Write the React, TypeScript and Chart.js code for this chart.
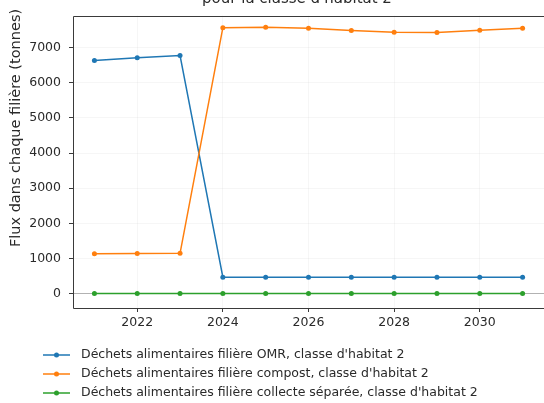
import React, { useEffect, useRef } from "react";
import { Chart, registerables } from "chart.js";

Chart.register(...registerables);

// Années et flux annuels (tonnes) par filière
const years = [2021, 2022, 2023, 2024, 2025, 2026, 2027, 2028, 2029, 2030, 2031];
const fluxOmr = [6630, 6710, 6775, 465, 465, 465, 465, 465, 465, 465, 465];
const fluxCompost = [1135, 1140, 1147, 7567, 7578, 7550, 7483, 7438, 7427, 7494, 7550];
const fluxCollecteSeparee = [0, 0, 0, 0, 0, 0, 0, 0, 0, 0, 0];

const seriesLabels = [
  "Déchets alimentaires filière OMR, classe d'habitat 2",
  "Déchets alimentaires filière compost, classe d'habitat 2",
  "Déchets alimentaires filière collecte séparée, classe d'habitat 2",
];
const seriesColors = ["#1f77b4", "#ff7f0e", "#2ca02c"];

const xTicks = [2022, 2024, 2026, 2028, 2030];
const yTicks = [0, 1000, 2000, 3000, 4000, 5000, 6000, 7000];

const titleText = "pour la classe d'habitat 2";
const yAxisTitle = "Flux dans chaque filière (tonnes)";

const FONT = "'DejaVu Sans', sans-serif";
const TEXT_COLOR = "#2a2a2a";
const TICK_SIZE = 12.5;

const decorations = {
  id: "decorations",
  afterDatasetsDraw(chart: any) {
    const { ctx, chartArea } = chart;
    const { left, right, top, bottom } = chartArea;
    ctx.save();
    // cadre de l'axe (gauche, haut, bas)
    ctx.strokeStyle = "#3a3a3a";
    ctx.lineWidth = 1;
    ctx.beginPath();
    ctx.moveTo(right + 2, Math.round(top) + 0.5);
    ctx.lineTo(Math.round(left) + 0.5, Math.round(top) + 0.5);
    ctx.lineTo(Math.round(left) + 0.5, Math.round(bottom) + 0.5);
    ctx.lineTo(right + 2, Math.round(bottom) + 0.5);
    ctx.stroke();
    ctx.restore();
  },
  afterDraw(chart: any) {
    const { ctx } = chart;
    ctx.save();
    ctx.fillStyle = TEXT_COLOR;

    // titre (deuxième ligne)
    ctx.font = `15px ${FONT}`;
    ctx.textAlign = "center";
    ctx.textBaseline = "alphabetic";
    ctx.fillText(titleText, 297, 3);

    // titre de l'axe des ordonnées
    ctx.save();
    ctx.translate(16, 128);
    ctx.rotate(-Math.PI / 2);
    ctx.font = `14.5px ${FONT}`;
    ctx.textAlign = "center";
    ctx.textBaseline = "middle";
    ctx.fillText(yAxisTitle, 0, 0);
    ctx.restore();

    // légende sous le graphique
    const rowY = [355, 374, 393];
    chart.data.datasets.forEach((ds: any, i: number) => {
      const y = rowY[i];
      ctx.strokeStyle = ds.borderColor;
      ctx.lineWidth = 1.5;
      ctx.beginPath();
      ctx.moveTo(43, y);
      ctx.lineTo(70, y);
      ctx.stroke();
      ctx.fillStyle = ds.borderColor;
      ctx.beginPath();
      ctx.arc(56.5, y, 2.5, 0, Math.PI * 2);
      ctx.fill();
      ctx.fillStyle = TEXT_COLOR;
      ctx.font = `${TICK_SIZE}px ${FONT}`;
      ctx.textAlign = "left";
      ctx.textBaseline = "middle";
      ctx.fillText(ds.label, 81, y);
    });
    ctx.restore();
  },
};

export default function App() {
  const canvasRef = useRef<HTMLCanvasElement | null>(null);

  useEffect(() => {
    if (!canvasRef.current) return;
    const series = [fluxOmr, fluxCompost, fluxCollecteSeparee];
    const chart = new Chart(canvasRef.current, {
      type: "line",
      data: {
        datasets: series.map((values, i) => ({
          label: seriesLabels[i],
          data: years.map((yr, j) => ({ x: yr, y: values[j] })),
          borderColor: seriesColors[i],
          backgroundColor: seriesColors[i],
          borderWidth: 1.5,
          pointRadius: 2.5,
          pointBorderWidth: 0,
          pointBackgroundColor: seriesColors[i],
          tension: 0,
          order: 2 - i,
        })),
      },
      options: {
        animation: false,
        responsive: false,
        devicePixelRatio: 1,
        events: [],
        layout: { autoPadding: false, padding: { left: 0, right: 0, top: 10, bottom: 65 } },
        plugins: {
          legend: { display: false },
          tooltip: { enabled: false },
          title: { display: false },
        },
        scales: {
          x: {
            type: "linear",
            min: 2020.5,
            max: 2031.5,
            afterBuildTicks: (scale: any) => {
              scale.ticks = xTicks.map((v) => ({ value: v }));
            },
            afterFit: (scale: any) => {
              scale.height = 30;
            },
            border: { display: false },
            grid: {
              color: "rgba(0,0,0,0.035)",
              tickColor: "#3a3a3a",
              tickLength: 4,
            },
            ticks: {
              font: { family: FONT, size: TICK_SIZE },
              color: TEXT_COLOR,
              padding: 3,
              maxRotation: 0,
              callback: (v: any) => String(v),
            },
          },
          y: {
            type: "linear",
            min: -410,
            max: 7913,
            afterBuildTicks: (scale: any) => {
              scale.ticks = yTicks.map((v) => ({ value: v }));
            },
            afterFit: (scale: any) => {
              scale.width = 73;
            },
            border: { display: false },
            grid: {
              color: (c: any) =>
                c.tick && c.tick.value === 0 ? "rgba(0,0,0,0.3)" : "rgba(0,0,0,0.035)",
              tickColor: "#3a3a3a",
              tickLength: 4,
            },
            ticks: {
              font: { family: FONT, size: TICK_SIZE },
              color: TEXT_COLOR,
              padding: 8,
              callback: (v: any) => String(v),
            },
          },
        },
      },
      plugins: [decorations],
    });
    return () => chart.destroy();
  }, []);

  return (
    <div style={{ position: "fixed", left: 0, top: 0, width: 544, height: 403, background: "#fff" }}>
      <canvas ref={canvasRef} width={544} height={403} style={{ display: "block" }} />
    </div>
  );
}
